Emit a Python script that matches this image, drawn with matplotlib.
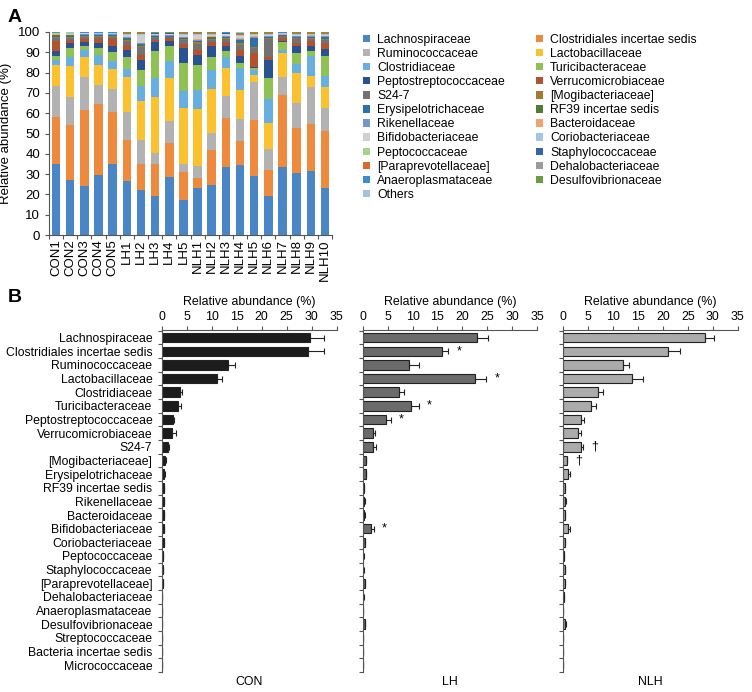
import numpy as np
import matplotlib
matplotlib.use('Agg')
import matplotlib.pyplot as plt
from matplotlib.patches import Patch

plt.rcParams['font.family'] = ['Liberation Sans', 'DejaVu Sans']

# ---- panel A: per-sample stacked composition (%) ----
samples = ['CON1', 'CON2', 'CON3', 'CON4', 'CON5', 'LH1', 'LH2', 'LH3', 'LH4', 'LH5',
           'NLH1', 'NLH2', 'NLH3', 'NLH4', 'NLH5', 'NLH6', 'NLH7', 'NLH8', 'NLH9', 'NLH10']

lachno = [35.2, 27.0, 24.1, 29.8, 34.8, 26.6, 22.1, 19.2, 28.4, 17.2,
          23.0, 24.6, 33.3, 34.4, 29.0, 19.2, 33.3, 30.3, 31.5, 23.3]
clos_is = [23.1, 27.2, 37.5, 34.8, 26.0, 20.4, 13.1, 16.0, 17.0, 13.9,
           4.9, 17.5, 24.2, 12.1, 27.7, 12.8, 35.7, 22.2, 23.0, 27.8]
rumino = [15.2, 13.7, 16.0, 9.2, 11.0, 13.8, 11.5, 5.0, 10.6, 3.7,
          6.1, 8.2, 11.2, 10.5, 18.5, 10.3, 8.6, 12.4, 18.6, 11.7]
lacto = [10.4, 15.5, 10.0, 9.7, 10.1, 17.2, 19.3, 27.7, 21.3, 28.0,
         28.3, 21.5, 13.5, 14.5, 3.8, 13.1, 12.0, 14.8, 5.3, 10.3]
clostrid = [2.4, 4.1, 3.3, 5.0, 3.6, 3.7, 7.5, 9.4, 8.2, 7.9,
            9.2, 9.6, 5.4, 10.7, 2.4, 11.5, 1.7, 4.5, 9.9, 5.3]
turici = [2.0, 4.5, 2.0, 3.5, 4.5, 5.9, 7.9, 13.1, 7.4, 14.1,
          12.4, 6.2, 2.8, 2.5, 0.8, 10.4, 3.6, 5.4, 2.1, 9.6]
peptostrep = [2.5, 2.6, 2.0, 2.8, 2.9, 3.7, 4.9, 4.5, 2.5, 7.3,
              4.7, 5.6, 2.8, 3.3, 0.7, 9.0, 0.9, 3.3, 2.5, 3.6]
verruco = [4.6, 1.6, 1.6, 1.7, 3.6, 2.4, 2.5, 1.4, 1.4, 1.9,
           2.7, 2.1, 2.1, 3.3, 6.7, 1.3, 1.0, 1.7, 2.5, 3.0]
s24_7 = [1.6, 1.0, 1.2, 1.0, 1.1, 2.0, 3.8, 1.0, 0.6, 2.0,
         3.0, 1.0, 1.2, 2.5, 2.5, 9.0, 1.0, 1.8, 1.2, 1.6]
mogi = [0.6, 0.5, 0.5, 0.6, 0.5, 0.5, 0.6, 0.3, 0.3, 0.4,
        0.6, 0.4, 0.5, 0.6, 0.7, 0.5, 0.3, 0.4, 0.4, 0.5]
erysip = [0.4, 0.3, 0.3, 0.3, 0.3, 0.5, 0.5, 0.3, 0.3, 0.4,
          0.6, 0.4, 0.4, 1.5, 4.0, 0.4, 0.3, 0.5, 0.5, 0.6]
rf39 = [0.3, 0.3, 0.2, 0.2, 0.2, 0.3, 0.3, 0.2, 0.2, 0.3,
        0.2, 0.2, 0.2, 0.3, 0.2, 0.2, 0.1, 0.2, 0.2, 0.2]
rikenell = [0.3, 0.2, 0.2, 0.2, 0.2, 0.3, 0.4, 0.2, 0.2, 0.3,
            0.5, 0.3, 0.3, 0.5, 0.5, 0.3, 0.2, 0.4, 0.3, 0.3]
bacteroid = [0.2, 0.2, 0.2, 0.2, 0.2, 0.3, 0.3, 0.2, 0.2, 0.3,
             0.3, 0.2, 0.3, 0.3, 0.4, 0.2, 0.2, 0.3, 0.3, 0.3]
bifido = [0.3, 0.3, 0.2, 0.2, 0.2, 1.0, 4.0, 0.4, 0.3, 1.0,
          2.0, 0.9, 0.6, 1.0, 0.6, 0.5, 0.3, 0.5, 0.4, 0.6]
corio = [0.2, 0.2, 0.1, 0.2, 0.2, 0.3, 0.3, 0.2, 0.2, 0.3,
         0.3, 0.2, 0.2, 0.3, 0.2, 0.2, 0.1, 0.2, 0.2, 0.2]
peptococc = [0.1, 0.1, 0.1, 0.1, 0.1, 0.1, 0.1, 0.1, 0.1, 0.1,
             0.15, 0.15, 0.15, 0.15, 0.15, 0.15, 0.1, 0.15, 0.15, 0.15]
staph = [0.1, 0.1, 0.1, 0.1, 0.1, 0.1, 0.1, 0.1, 0.1, 0.1,
         0.2, 0.2, 0.2, 0.2, 0.2, 0.2, 0.1, 0.2, 0.2, 0.2]
paraprev = [0.1, 0.1, 0.1, 0.1, 0.1, 0.3, 0.3, 0.3, 0.3, 0.3,
            0.3, 0.3, 0.3, 0.3, 0.3, 0.3, 0.2, 0.3, 0.3, 0.3]
dehalo = [0.05, 0.05, 0.05, 0.05, 0.05, 0.1, 0.1, 0.1, 0.1, 0.1,
          0.1, 0.1, 0.1, 0.1, 0.1, 0.1, 0.05, 0.1, 0.1, 0.1]
anaero = [0.05, 0.05, 0.05, 0.05, 0.05, 0.05, 0.05, 0.05, 0.05, 0.05,
          0.05, 0.05, 0.05, 0.05, 0.3, 0.05, 0.05, 0.05, 0.05, 0.05]
desulfo = [0.1, 0.1, 0.1, 0.1, 0.1, 0.3, 0.3, 0.3, 0.3, 0.3,
           0.3, 0.3, 0.3, 0.3, 0.3, 0.3, 0.2, 0.3, 0.3, 0.3]
others = [0.2, 0.3, 0.2, 0.2, 0.2, 0.2, 0.2, 0.1, 0.1, 0.2,
          0.2, 0.1, 0.1, 0.6, 0.1, 0.1, 0.1, 0.1, 0.1, 0.1]

stack_names = ['Lachnospiraceae', 'Clostridiales incertae sedis', 'Ruminococcaceae',
               'Lactobacillaceae', 'Clostridiaceae', 'Turicibacteraceae',
               'Peptostreptococcaceae', 'Verrucomicrobiaceae', 'S24-7',
               '[Mogibacteriaceae]', 'Erysipelotrichaceae', 'RF39 incertae sedis',
               'Rikenellaceae', 'Bacteroidaceae', 'Bifidobacteriaceae',
               'Coriobacteriaceae', 'Peptococcaceae', 'Staphylococcaceae',
               '[Paraprevotellaceae]', 'Dehalobacteriaceae', 'Anaeroplasmataceae',
               'Desulfovibrionaceae', 'Others']
stack_vals = [lachno, clos_is, rumino, lacto, clostrid, turici, peptostrep, verruco,
              s24_7, mogi, erysip, rf39, rikenell, bacteroid, bifido, corio,
              peptococc, staph, paraprev, dehalo, anaero, desulfo, others]
stack_colors = ['#4a86c6', '#ee8a3d', '#b2b2b2', '#fcc12e', '#66afe0', '#8fc153',
                '#2a5192', '#b5522e', '#727272', '#a27c2e', '#2c71ab', '#4f7b35',
                '#7296cd', '#f4a26f', '#cfcfcf', '#9fc6e8', '#a9d18e', '#3462ae',
                '#d9682c', '#9b9b9b', '#3f8bca', '#6c9c41', '#a8bfe0']

# ---- panel B: group means and SE (%) ----
families = ['Lachnospiraceae', 'Clostridiales incertae sedis', 'Ruminococcaceae',
            'Lactobacillaceae', 'Clostridiaceae', 'Turicibacteraceae',
            'Peptostreptococcaceae', 'Verrucomicrobiaceae', 'S24-7',
            '[Mogibacteriaceae]', 'Erysipelotrichaceae', 'RF39 incertae sedis',
            'Rikenellaceae', 'Bacteroidaceae', 'Bifidobacteriaceae',
            'Coriobacteriaceae', 'Peptococcaceae', 'Staphylococcaceae',
            '[Paraprevotellaceae]', 'Dehalobacteriaceae', 'Anaeroplasmataceae',
            'Desulfovibrionaceae', 'Streptococcaceae', 'Bacteria incertae sedis',
            'Micrococcaceae']
con_mean = [29.6, 29.3, 13.2, 11.0, 3.6, 3.2, 2.3, 2.1, 1.3, 0.7, 0.5, 0.4, 0.35,
            0.35, 0.35, 0.35, 0.15, 0.15, 0.15, 0.03, 0.02, 0.03, 0.0, 0.0, 0.0]
con_err = [2.8, 3.2, 1.5, 1.0, 0.5, 0.6, 0.2, 0.7, 0.2, 0.1, 0.1, 0.05, 0.05,
           0.05, 0.05, 0.05, 0.02, 0.02, 0.02, 0.0, 0.0, 0.0, 0.0, 0.0, 0.0]
lh_mean = [23.0, 16.0, 9.3, 22.6, 7.3, 9.7, 4.6, 2.0, 2.0, 0.6, 0.6, 0.3, 0.35,
           0.35, 1.6, 0.4, 0.15, 0.15, 0.4, 0.15, 0.0, 0.4, 0.0, 0.0, 0.0]
lh_err = [2.2, 1.2, 2.0, 2.2, 1.0, 1.6, 1.0, 0.5, 0.6, 0.1, 0.1, 0.05, 0.05,
          0.05, 0.7, 0.1, 0.02, 0.02, 0.1, 0.02, 0.0, 0.1, 0.0, 0.0, 0.0]
nlh_mean = [28.5, 21.0, 11.9, 13.7, 7.0, 5.5, 3.6, 3.0, 3.5, 0.7, 1.0, 0.25, 0.4,
            0.35, 1.0, 0.3, 0.15, 0.25, 0.3, 0.05, 0.03, 0.4, 0.0, 0.0, 0.0]
nlh_err = [1.7, 2.5, 1.2, 2.2, 1.0, 1.0, 0.6, 0.6, 0.5, 0.1, 0.3, 0.05, 0.05,
           0.05, 0.3, 0.05, 0.02, 0.02, 0.05, 0.0, 0.0, 0.1, 0.0, 0.0, 0.0]
groups = ['CON', 'LH', 'NLH']
group_colors = ['#1c1c1c', '#6b6b6b', '#ababab']
lh_marks = {1: '*', 3: '*', 5: '*', 6: '*', 14: '*'}
nlh_marks = {8: '\u2020', 9: '\u2020'}

W, H = 752, 692
fig = plt.figure(figsize=(W / 100, H / 100), dpi=100)


def box(l, t, r, b):
    return [l / W, 1 - b / H, (r - l) / W, (b - t) / H]


# ---------- A ----------
axa = fig.add_axes(box(49, 32, 332, 235))
x = np.arange(len(samples))
bottom = np.zeros(len(samples))
for vals, col in zip(stack_vals, stack_colors):
    axa.bar(x, vals, 0.6, bottom=bottom, color=col, linewidth=0)
    bottom += np.array(vals)
axa.set_xlim(-0.5, len(samples) - 0.5)
axa.set_ylim(0, 100)
axa.set_yticks(range(0, 101, 10))
axa.set_xticks(x)
axa.set_xticklabels(samples, rotation=90, fontsize=9.5)
axa.set_xticks(np.arange(-0.5, len(samples)), minor=True)
axa.tick_params(axis='x', which='major', length=0, pad=3)
axa.tick_params(axis='x', which='minor', length=3, width=0.8, color='#555555')
axa.tick_params(axis='y', labelsize=9.5, length=3, width=0.8, color='#555555')
axa.set_ylabel('Relative abundance (%)', fontsize=9.5, labelpad=4)
for s in ['top', 'right']:
    axa.spines[s].set_visible(False)
for s in ['left', 'bottom']:
    axa.spines[s].set_color('#555555')
    axa.spines[s].set_linewidth(0.8)

# legend: two columns filled row by row
handles = [Patch(facecolor=c, edgecolor='none') for c in stack_colors]
order = list(range(0, len(handles), 2)) + list(range(1, len(handles), 2))
fig.legend([handles[i] for i in order], [stack_names[i] for i in order],
           loc='upper left', bbox_to_anchor=(358 / W, 1 - 29 / H), ncol=2,
           frameon=False, fontsize=8.8, handlelength=0.55, handleheight=0.55,
           handletextpad=0.6, labelspacing=0.17, columnspacing=2.55,
           borderaxespad=0)

fig.text(8 / W, 1 - 18 / H, 'A', fontsize=14, fontweight='bold', va='center')
fig.text(8 / W, 1 - 298 / H, 'B', fontsize=14, fontweight='bold', va='center')

# ---------- B ----------
lefts = [162, 362.7, 563.3]
means = [con_mean, lh_mean, nlh_mean]
errs = [con_err, lh_err, nlh_err]
marks = [{}, lh_marks, nlh_marks]
y = np.arange(len(families))
for k, g in enumerate(groups):
    ax = fig.add_axes(box(lefts[k], 330, lefts[k] + 174.5, 672))
    m = np.array(means[k])
    e = np.array(errs[k])
    ax.barh(y, m, 0.7, color=group_colors[k], edgecolor='#222222', linewidth=0.8)
    ax.errorbar(m, y, xerr=[np.zeros_like(e), e], fmt='none', ecolor='#222222',
                elinewidth=0.8, capsize=2.5, capthick=0.8)
    for i, sym in marks[k].items():
        ax.text(m[i] + e[i] + 1.6, y[i], sym, fontsize=9, va='center', ha='left')
    ax.set_xlim(0, 35)
    ax.set_ylim(len(families) - 0.62, -0.56)
    ax.xaxis.tick_top()
    ax.xaxis.set_label_position('top')
    ax.set_xticks(range(0, 36, 5))
    ax.set_xlabel('Relative abundance (%)', fontsize=8.9, labelpad=4)
    ax.tick_params(axis='x', labelsize=8.9, length=3, width=0.8, color='#555555', pad=2)
    ax.set_yticks(y)
    if k == 0:
        ax.set_yticklabels(families, fontsize=8.8)
    else:
        ax.set_yticklabels([])
    ax.set_yticks(np.arange(-0.5, len(families)), minor=True)
    ax.tick_params(axis='y', which='major', length=0, pad=7)
    ax.tick_params(axis='y', which='minor', length=3, width=0.8, color='#555555')
    for s in ['right', 'bottom']:
        ax.spines[s].set_visible(False)
    for s in ['top', 'left']:
        ax.spines[s].set_color('#555555')
        ax.spines[s].set_linewidth(0.8)
    ax.text(0.5, -0.012, g, transform=ax.transAxes, ha='center', va='top', fontsize=8.9)

fig.savefig('out.png', dpi=100)
